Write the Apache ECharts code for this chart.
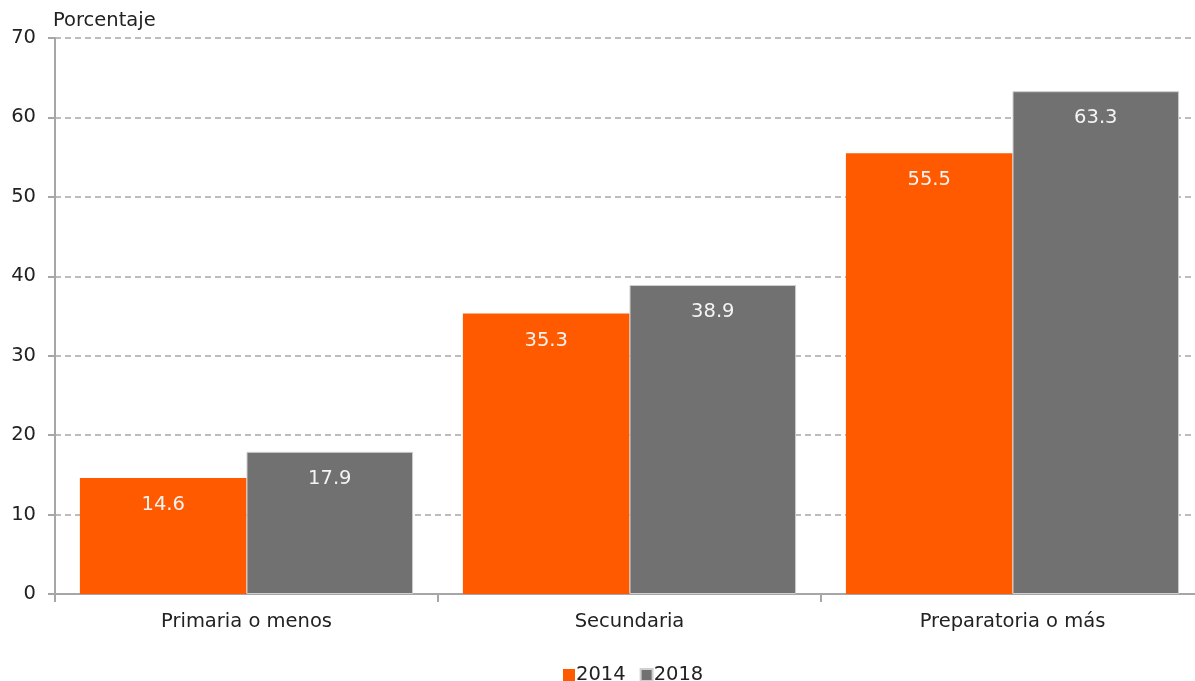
<!DOCTYPE html>
<html><head><meta charset="utf-8">
<script src="https://cdn.jsdelivr.net/npm/echarts@6/dist/echarts.min.js"></script>
<style>html,body{margin:0;padding:0;background:#fff;overflow:hidden}#c{width:1204px;height:681px}</style>
</head><body><div id="c"></div>
<script>
const categories = ['Primaria o menos', 'Secundaria', 'Preparatoria o más'];
const s2014 = [14.6, 35.3, 55.5];
const s2018 = [17.9, 38.9, 63.3];
const yTicks = [0, 10, 20, 30, 40, 50, 60, 70];
const FONT = 'DejaVu Sans';
const FS = 19.5;
const chart = echarts.init(document.getElementById('c'), null, {renderer: 'canvas'});
const labelOpt = {show: true, position: 'insideTop', distance: 17, color: '#f4f4f4', fontSize: FS, fontFamily: FONT, formatter: p => p.value.toFixed(1)};
chart.setOption({
  animation: false,
  textStyle: {fontFamily: FONT},
  grid: {left: 55, right: 0, top: 38, bottom: 87, containLabel: false},
  legend: {top: 660, left: 558, itemWidth: 12, itemHeight: 12, itemGap: 14,
    textStyle: {fontSize: FS, color: '#222', fontFamily: FONT, padding: [0,0,0,-4]}, icon: 'rect',
    data: ['2014', '2018']},
  xAxis: {type: 'category', data: categories,
    axisLine: {lineStyle: {color: '#a6a6a6', width: 2}},
    axisTick: {show: true, length: 8, lineStyle: {color: '#a6a6a6', width: 2}},
    axisLabel: {fontSize: FS, color: '#222', margin: 18, fontFamily: FONT}},
  yAxis: {type: 'value', min: yTicks[0], max: yTicks[yTicks.length-1], interval: 10,
    name: 'Porcentaje', nameLocation: 'end', nameGap: 7,
    nameTextStyle: {fontSize: FS, color: '#222', align: 'left', padding: [0,0,0,-2], fontFamily: FONT},
    axisLine: {show: true, lineStyle: {color: '#a6a6a6', width: 2}},
    axisTick: {show: true, length: 7, lineStyle: {color: '#a6a6a6', width: 2}},
    axisLabel: {fontSize: FS, color: '#222', margin: 19, fontFamily: FONT},
    splitLine: {show: true, lineStyle: {color: '#a6a6a6', type: [6, 4], width: 1.5}}},
  series: [
    {name: '2014', type: 'bar', data: s2014, barGap: '0%', barCategoryGap: '13%',
     itemStyle: {color: '#FF5A00', borderColor: '#FF5A00', borderWidth: 0}, label: labelOpt},
    {name: '2018', type: 'bar', data: s2018, barGap: '0%', barCategoryGap: '13%',
     itemStyle: {color: '#717171', borderColor: '#cfcfcf', borderWidth: 1}, label: labelOpt}
  ]
});
</script></body></html>
